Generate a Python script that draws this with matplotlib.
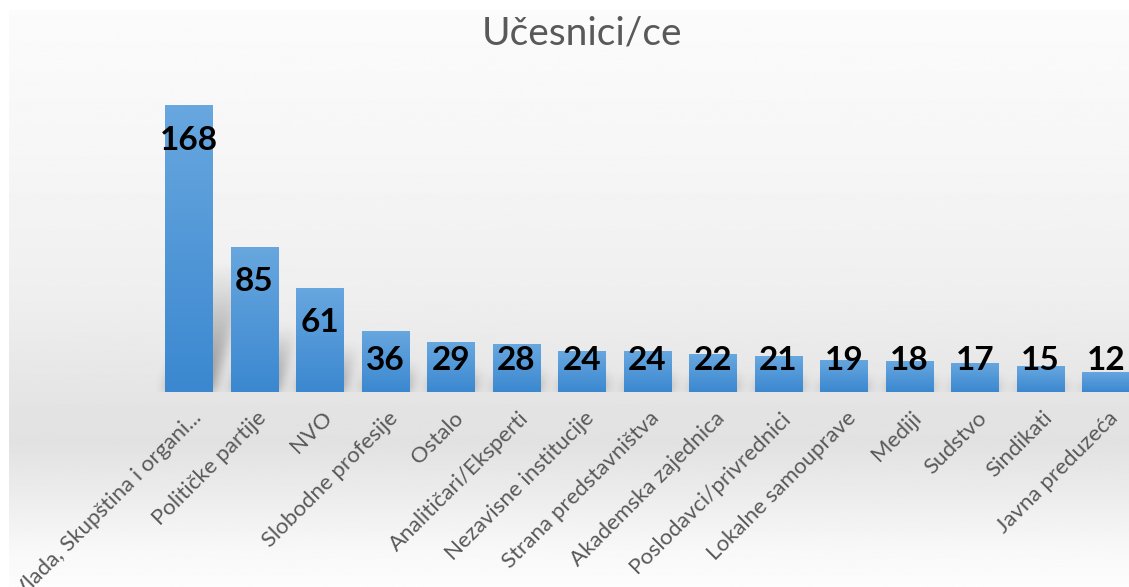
import numpy as np
import matplotlib.pyplot as plt
from matplotlib.colors import LinearSegmentedColormap
from matplotlib.transforms import offset_copy

# data
categories = ["Vlada, Skupština i organi...", "Političke partije", "NVO",
              "Slobodne profesije", "Ostalo", "Analitičari/Eksperti",
              "Nezavisne institucije", "Strana predstavništva",
              "Akademska zajednica", "Poslodavci/privrednici",
              "Lokalne samouprave", "Mediji", "Sudstvo", "Sindikati",
              "Javna preduzeća"]
values = [168, 85, 61, 36, 29, 28, 24, 24, 22, 21, 19, 18, 17, 15, 12]
title = "Učesnici/ce"

W, H = 1129, 587
fig = plt.figure(figsize=(W / 100, H / 100), dpi=100)
fig.patch.set_facecolor("white")

# chart area background (soft vertical gradient)
bg = fig.add_axes([9 / W, 0, 1 - 9 / W, 1 - 10 / H], zorder=0)
yy = np.linspace(0, 1, 300)          # 0 = top, 1 = bottom
stops_y = [0.0, 0.25, 0.5, 0.68, 0.75, 0.85, 0.93, 1.0]
stops_v = [0.985, 0.965, 0.935, 0.895, 0.885, 0.93, 0.97, 0.99]
shade = np.interp(yy, stops_y, stops_v)
bg.imshow(np.repeat(shade[:, None], 2, axis=1), cmap="gray", vmin=0, vmax=1,
          aspect="auto", extent=[0, 1, 0, 1])
bg.axis("off")

# main axes, positioned in pixels
px_per_unit = 287 / 168
spacing = 65.5
x0 = 189
ax = fig.add_axes([0, (H - 392) / H, 1, 307 / H], zorder=1)
xlo, xhi = -x0 / spacing, (W - x0) / spacing
ylo, yhi = 0, 307 / px_per_unit
ax.set_xlim(xlo, xhi)
ax.set_ylim(ylo, yhi)
ax.patch.set_alpha(0)
for s in ax.spines.values():
    s.set_visible(False)
ax.set_xticks([])
ax.set_yticks([])

xs = np.arange(len(values))
bw = 0.72

# soft perspective shadows behind the bars
gx = np.linspace(xlo, xhi, W)
gy = np.linspace(ylo, yhi, 307)
GX, GY = np.meshgrid(gx, gy)
sh = np.zeros_like(GX)
slant = (1 / spacing) / (3.3 / px_per_unit)   # x-units per y-unit
for x, v in zip(xs, values):
    hs = 0.45 * v
    left = x - bw / 2 + GY * slant
    inside = (GX >= left) & (GX <= left + bw) & (GY <= hs)
    sh = np.maximum(sh, np.where(inside, 1 - GY / hs, 0))
k = np.exp(-0.5 * (np.arange(-18, 19) / 6.0) ** 2)
k /= k.sum()
sh = np.apply_along_axis(lambda r: np.convolve(r, k, mode="same"), 1, sh)
sh = np.apply_along_axis(lambda c: np.convolve(c, k, mode="same"), 0, sh)
rgba = np.zeros(sh.shape + (4,))
rgba[..., 3] = 0.4 * sh
ax.imshow(rgba, origin="lower", aspect="auto", extent=[xlo, xhi, ylo, yhi],
          zorder=1, interpolation="bilinear")

bars = ax.bar(xs, values, width=bw, color="#4a92d6", linewidth=0, zorder=2)

# gradient fill on each bar
cmap = LinearSegmentedColormap.from_list("barg", ["#3b88d0", "#68a7df"])
grad = np.linspace(0, 1, 100)[:, None]
for b in bars:
    x, w, h = b.get_x(), b.get_width(), b.get_height()
    im = ax.imshow(grad, cmap=cmap, aspect="auto", origin="lower",
                   extent=[x, x + w, 0, h], zorder=3)
    im.set_clip_path(b)
ax.set_xlim(xlo, xhi)
ax.set_ylim(ylo, yhi)

# value labels
for x, v in zip(xs, values):
    y = max(v - 35 / px_per_unit, 32 / px_per_unit)
    ax.text(x, y, str(v), ha="center", va="center", fontsize=24,
            fontweight="bold", family="Lato", color="black", zorder=4)

# category labels
lab_tr = offset_copy(ax.transData, fig=fig, x=9, y=-23, units="dots")
for x, c in zip(xs, categories):
    ax.text(x, 0, c, transform=lab_tr, rotation=45, rotation_mode="anchor",
            ha="right", va="center", fontsize=16, family="Lato",
            color="#595959", clip_on=False)

fig.text(582 / W, 1 - 33 / H, title, ha="center", va="center", fontsize=28,
         family="Lato", color="#595959")

fig.savefig("out.png", dpi=100)
